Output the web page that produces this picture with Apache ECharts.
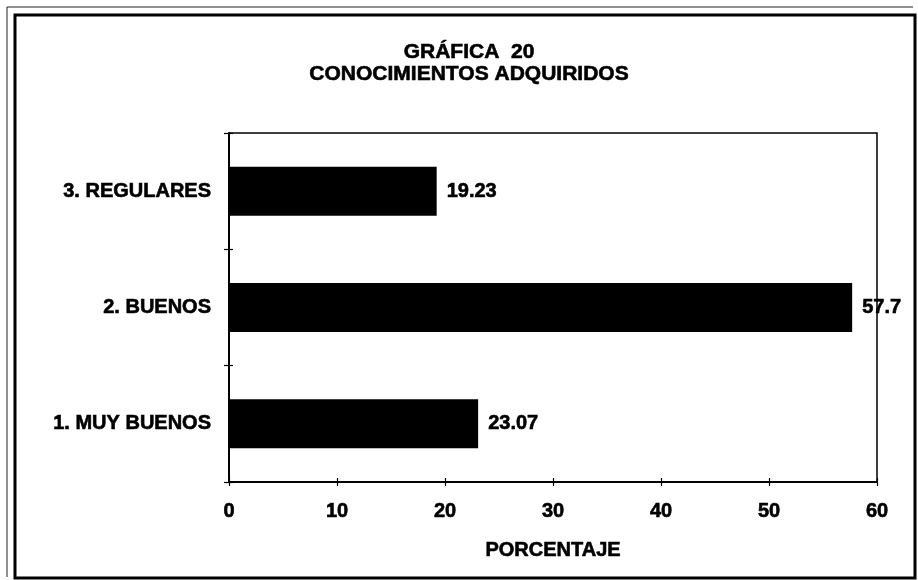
<!DOCTYPE html>
<html>
<head>
<meta charset="utf-8">
<script src="https://cdn.jsdelivr.net/npm/echarts@6/dist/echarts.min.js"></script>
<style>
  html, body { margin: 0; padding: 0; background: #fff; }
  #chart { width: 918px; height: 580px; }
</style>
</head>
<body>
<div id="chart"></div>
<script>
// datos de la gráfica
const categorias = ['1. MUY BUENOS', '2. BUENOS', '3. REGULARES']
const porcentajes = [23.07, 57.7, 19.23]
const etiquetas = ['23.07', '57.7', '19.23']
const ticksX = [0, 10, 20, 30, 40, 50, 60]

const fuente = 'Liberation Sans, Arial, sans-serif'
// texto negrita algo más grueso, como en el original escaneado
const texto = { fontFamily: fuente, fontSize: 20, fontWeight: 'bold', color: '#000', textBorderColor: '#000', textBorderWidth: 0.6 }
const chart = echarts.init(document.getElementById('chart'))

const ejeX = {
  type: 'value',
  min: ticksX[0],
  max: ticksX[ticksX.length - 1],
  interval: 10,
  splitLine: { show: false },
  axisLine: { show: true, lineStyle: { color: '#000', width: 1.5 } },
  axisTick: { show: true, length: 4, lineStyle: { color: '#000', width: 1.2 } },
}

chart.setOption({
  backgroundColor: '#fff',
  animation: false,
  title: {
    text: 'GRÁFICA  20\nCONOCIMIENTOS ADQUIRIDOS',
    left: 464,
    top: 36,
    textAlign: 'center',
    textStyle: { ...texto, fontSize: 21, lineHeight: 22 },
  },
  grid: {
    left: 229, top: 133, width: 648, height: 349,
    show: true, borderColor: '#000', borderWidth: 1.5, backgroundColor: 'transparent',
  },
  xAxis: [
    {
      ...ejeX,
      name: 'PORCENTAJE',
      nameLocation: 'middle',
      nameGap: 58,
      nameTextStyle: texto,
      axisLabel: { margin: 19, ...texto },
    },
    {
      // marcas hacia dentro para formar la cruz
      ...ejeX,
      position: 'bottom',
      axisTick: { show: true, inside: true, length: 4, lineStyle: { color: '#000', width: 1.2 } },
      axisLabel: { show: false },
    },
  ],
  yAxis: [
    {
      type: 'category',
      data: categorias,
      axisLine: { show: true, lineStyle: { color: '#000', width: 2 } },
      axisTick: { show: true, length: 5, lineStyle: { color: '#000', width: 1.2 } },
      axisLabel: { margin: 18, ...texto },
    },
    {
      type: 'category',
      data: categorias,
      position: 'left',
      axisLine: { show: false },
      axisTick: { show: true, inside: true, length: 4, lineStyle: { color: '#000', width: 1.2 } },
      axisLabel: { show: false },
    },
  ],
  series: [{
    type: 'bar',
    data: porcentajes,
    barWidth: 49,
    itemStyle: { color: '#000' },
    label: {
      show: true,
      position: 'right',
      distance: 10,
      formatter: p => etiquetas[p.dataIndex],
      ...texto,
    },
  }],
  graphic: [
    {
      type: 'rect',
      shape: { x: 15, y: 15, width: 900, height: 563 },
      style: { fill: 'none', stroke: '#000', lineWidth: 3 },
    },
    {
      type: 'polyline',
      shape: { points: [[7, 577], [7, 7], [913, 7]] },
      style: { fill: 'none', stroke: '#222', lineWidth: 1 },
    },
  ],
})
</script>
</body>
</html>
